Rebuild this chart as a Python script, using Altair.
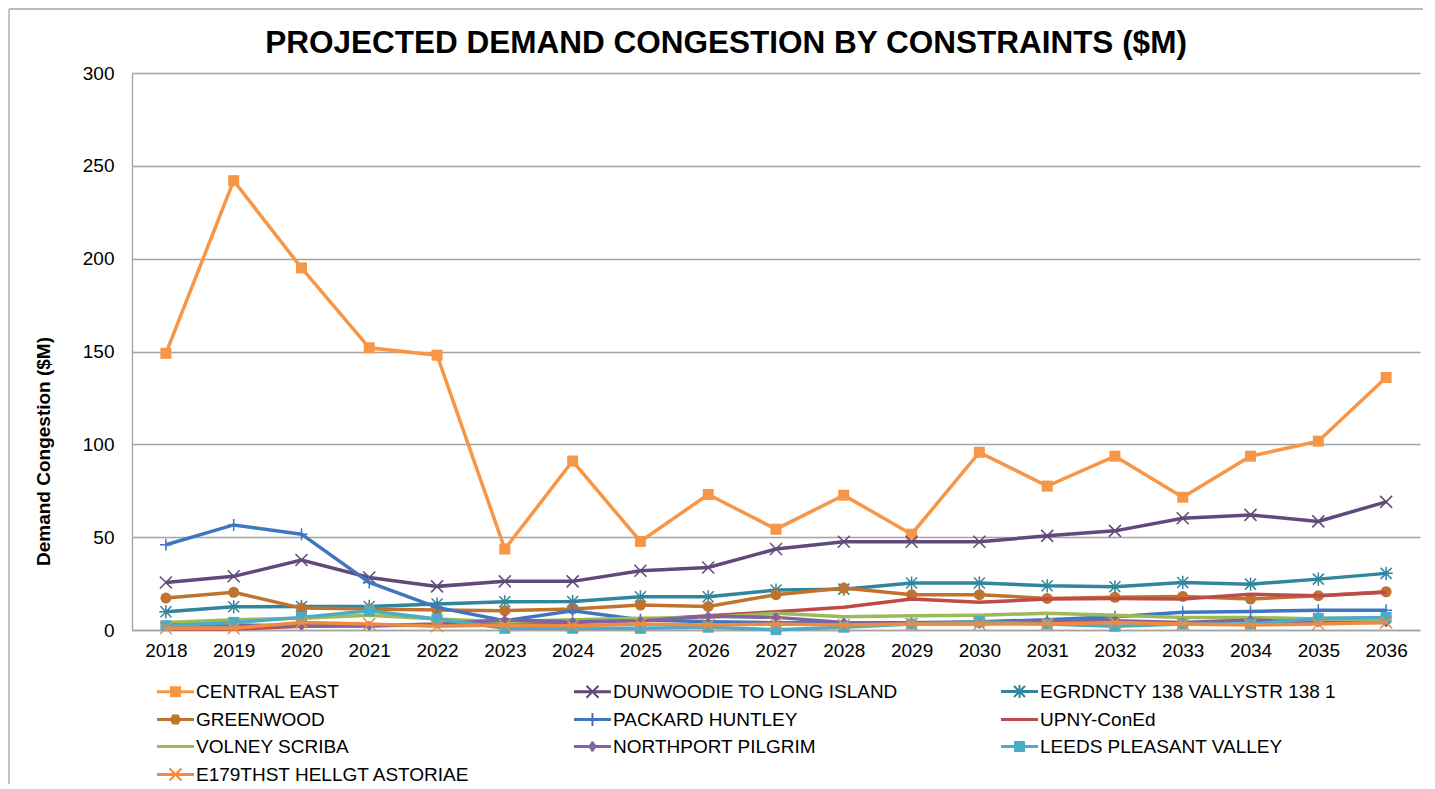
import altair as alt
import pandas as pd

years = [str(y) for y in range(2018, 2037)]

series_names = [
    "CENTRAL EAST",
    "DUNWOODIE TO LONG ISLAND",
    "EGRDNCTY 138 VALLYSTR 138 1",
    "GREENWOOD",
    "PACKARD HUNTLEY",
    "UPNY-ConEd",
    "VOLNEY SCRIBA",
    "NORTHPORT PILGRIM",
    "LEEDS PLEASANT VALLEY",
    "E179THST HELLGT ASTORIAE",
]

central_east = [149, 242, 195, 152, 148, 43.6, 91, 47.7, 73, 54.3, 72.6, 51.6, 95.7, 77.5, 93.6, 71.5, 93.6, 101.7, 136]
dunwoodie = [25.6, 28.9, 37.7, 28.3, 23.5, 26.2, 26.2, 31.9, 33.7, 43.6, 47.5, 47.5, 47.5, 50.7, 53.4, 60.2, 62, 58.5, 69]
egrdncty = [9.8, 12.5, 12.7, 12.7, 14, 15.2, 15.4, 17.9, 17.9, 21.5, 22, 25.3, 25.3, 23.8, 23.3, 25.6, 24.7, 27.4, 30.5]
greenwood = [17.2, 20.3, 11.8, 11.3, 10.8, 10.4, 11.3, 13.4, 12.7, 19, 22.6, 19, 19, 17, 17.6, 18.1, 16.7, 18.5, 20.6]
packard = [45.9, 56.6, 51.6, 25.6, 12.2, 5, 10.4, 5.5, 4.5, 3.9, 3.9, 3.9, 4.5, 5.5, 7.2, 9.5, 10, 10.6, 10.6]
upny = [0.5, 0.5, 2, 2.3, 2.7, 3.2, 4.1, 5.4, 7.7, 9.8, 12.2, 16.7, 14.9, 16.7, 17, 16.7, 19.2, 18.5, 20.3]
volney = [4.1, 5.5, 6.3, 8, 5.9, 4.5, 5.5, 6.3, 6.8, 9, 7.2, 7.7, 8, 9, 8, 6.8, 6.8, 5.9, 5.9]
northport = [2.7, 2.7, 2.3, 2.3, 3.2, 5.4, 4.5, 5, 7.4, 6.8, 4.1, 3.2, 3.2, 5, 5, 4.1, 5.4, 4.1, 4.1]
leeds = [2.3, 4.1, 6.8, 10.4, 5.9, 0.9, 0.9, 0.9, 1.5, 0.2, 1.5, 3.2, 4.5, 3.2, 2, 3.2, 3.2, 6.3, 6.8]
e179 = [0.9, 0.9, 4.1, 3.2, 2, 2.7, 2.3, 3.2, 2.7, 3.2, 2.7, 3.2, 3.2, 3.2, 4.1, 3.2, 2.7, 3.2, 4.1]

all_values = [central_east, dunwoodie, egrdncty, greenwood, packard, upny, volney, northport, leeds, e179]

colors = ["#F79646", "#604A7B", "#31859C", "#C0722F", "#3F76BD",
          "#BE4B48", "#9BBB59", "#8064A2", "#4BACC6", "#F08A3E"]

y_ticks = [0, 50, 100, 150, 200, 250, 300]
title_text = "PROJECTED DEMAND CONGESTION BY CONSTRAINTS ($M)"
y_title = "Demand Congestion ($M)"

FONT = "Liberation Sans"
GRID = "#A3A3A3"

rows = []
for name, vals in zip(series_names, all_values):
    for yr, v in zip(years, vals):
        rows.append({"year": yr, "series": name, "value": v})
df = pd.DataFrame(rows)

# chart marker symbols
X_PATH = "M-1,-1L1,1M-1,1L1,-1"
AST_PATH = "M-1,-1L1,1M-1,1L1,-1M0,-1.2L0,1.2M-1.2,0L1.2,0"
PLUS_PATH = "M0,-1L0,1M-1,0L1,0"
marker_specs = {
    "CENTRAL EAST": dict(shape="square", filled=True, size=121),
    "DUNWOODIE TO LONG ISLAND": dict(shape=X_PATH, filled=False, size=144, strokeWidth=1.5),
    "EGRDNCTY 138 VALLYSTR 138 1": dict(shape=AST_PATH, filled=False, size=121, strokeWidth=1.5),
    "GREENWOOD": dict(shape="circle", filled=True, size=121),
    "PACKARD HUNTLEY": dict(shape=PLUS_PATH, filled=False, size=144, strokeWidth=1.5),
    "NORTHPORT PILGRIM": dict(shape="diamond", filled=True, size=100),
    "LEEDS PLEASANT VALLEY": dict(shape="square", filled=True, size=121),
    "E179THST HELLGT ASTORIAE": dict(shape=X_PATH, filled=False, size=144, strokeWidth=1.5),
}

# legend symbols: line segment + marker drawn with strokes
L_LINE = "M-3.7,-0.1L3.7,-0.1M-3.7,0.1L3.7,0.1"
L_SQUARE = ("M-1.1,-0.9L1.1,-0.9M-1.1,-0.5L1.1,-0.5M-1.1,-0.1L1.1,-0.1"
            "M-1.1,0.1L1.1,0.1M-1.1,0.5L1.1,0.5M-1.1,0.9L1.1,0.9")
L_CIRCLE = ("M-0.7,-0.8L0.7,-0.8M-0.95,-0.4L0.95,-0.4M-1,0L1,0"
            "M-0.95,0.4L0.95,0.4M-0.7,0.8L0.7,0.8")
L_DIAMOND = ("M-0.3,-0.8L0.3,-0.8M-0.6,-0.4L0.6,-0.4M-1,0L1,0"
             "M-0.6,0.4L0.6,0.4M-0.3,0.8L0.3,0.8")
L_X = "M-1.2,-1.2L1.2,1.2M-1.2,1.2L1.2,-1.2"
L_AST = "M-1.1,-1.1L1.1,1.1M-1.1,1.1L1.1,-1.1M0,-1.3L0,1.3"
L_PLUS = "M0,-1.3L0,1.3"
legend_paths = [
    L_LINE + L_SQUARE,
    L_LINE + L_X,
    L_LINE + L_AST,
    L_LINE + L_CIRCLE,
    L_LINE + L_PLUS,
    L_LINE,
    L_LINE,
    L_LINE + L_DIAMOND,
    L_LINE + L_SQUARE,
    L_LINE + L_X,
]

x_enc = alt.X(
    "year:O", sort=years, scale=alt.Scale(padding=0.5),
    axis=alt.Axis(title=None, labelAngle=0, ticks=False, grid=False,
                  domainColor=GRID, domainWidth=1.3, labelPadding=11,
                  labelFontSize=19, labelFont=FONT, labelColor="#000000"),
)
y_enc = alt.Y(
    "value:Q", scale=alt.Scale(domain=[0, 300], nice=False),
    axis=alt.Axis(title=y_title, values=y_ticks, ticks=False, grid=True,
                  gridColor=GRID, gridWidth=1.3, domainColor=GRID, domainWidth=1.3,
                  labelPadding=18, labelFontSize=19, labelFont=FONT, labelColor="#000000",
                  titleFont=FONT, titleFontSize=19, titleFontWeight="bold", titleColor="#000000",
                  titleAngle=270, titleAlign="center", titleBaseline="alphabetic",
                  titleX=-83, titleY=378),
)
color_scale = alt.Scale(domain=series_names, range=colors)

series_layers = []
for name, c in zip(series_names, colors):
    base = alt.Chart(df).transform_filter(alt.datum.series == name)
    series_layers.append(
        base.mark_line(color=c, strokeWidth=3.5).encode(x=x_enc, y=y_enc)
    )
    if name in marker_specs:
        spec = dict(marker_specs[name])
        series_layers.append(
            base.mark_point(color=c, opacity=1, **spec).encode(x=x_enc, y=y_enc)
        )

leg = alt.Legend(
    title=None, orient="none", legendX=34, legendY=609, columns=3,
    direction="horizontal",
    columnPadding=99, rowPadding=7, labelFontSize=19, labelFont=FONT,
    labelColor="#000000", symbolSize=100, symbolStrokeWidth=2,
    labelOffset=11, labelLimit=500,
)
legend_layer = alt.Chart(df).transform_filter("datum.value < -1").mark_point(
    filled=False, strokeWidth=2, size=100, opacity=1
).encode(
    x=x_enc, y=y_enc,
    color=alt.Color("series:N", scale=color_scale, legend=leg),
    shape=alt.Shape("series:N", scale=alt.Scale(domain=series_names, range=legend_paths), legend=leg),
)

one = pd.DataFrame({"k": [0]})
frame_v = alt.Chart(one).mark_rule(color=GRID, strokeWidth=1.3).encode(
    x=alt.value(-123), y=alt.value(-64), y2=alt.value(800))
frame_h = alt.Chart(one).mark_rule(color=GRID, strokeWidth=1.3).encode(
    x=alt.value(-123), x2=alt.value(1400), y=alt.value(-64))

chart = alt.layer(frame_v, frame_h, *series_layers, legend_layer).properties(
    width=1288, height=557,
    title=alt.TitleParams(title_text, font=FONT, fontSize=31.5, fontWeight="bold",
                          color="#000000", anchor="middle", dx=-50, dy=93.7,
                          baseline="alphabetic", offset=18),
    autosize=alt.AutoSizeParams(type="none"),
    padding={"left": 124, "top": 65, "right": 3, "bottom": 154},
).configure_view(stroke=None)

chart.save("out.html", embed_options={"renderer": "svg", "actions": False})
